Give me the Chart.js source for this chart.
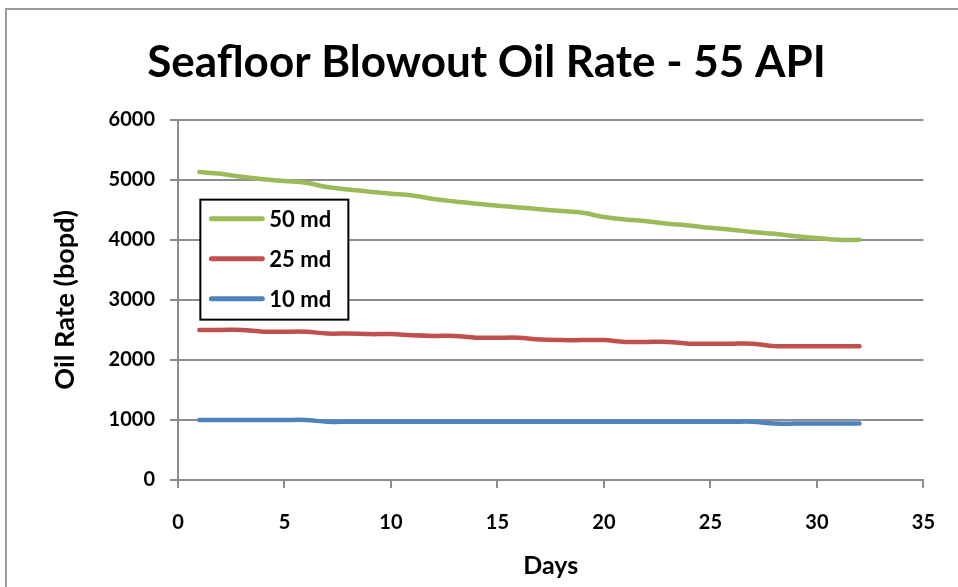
<!DOCTYPE html>
<html>
<head>
<meta charset="utf-8">
<script src="https://cdn.jsdelivr.net/npm/chart.js"></script>
<style>
  html, body { margin: 0; padding: 0; background: #fff; }
  #wrap { width: 958px; height: 587px; position: relative; }
</style>
</head>
<body>
<div id="wrap"><canvas id="chart-canvas"></canvas></div>
<script>
// values
const days = [1, 2, 3, 4, 5, 6, 7, 8, 9, 10, 11, 12, 13, 14, 15, 16,
              17, 18, 19, 20, 21, 22, 23, 24, 25, 26, 27, 28, 29, 30, 31, 32];
const rate50md = [5130, 5100, 5050, 5010, 4980, 4950, 4880, 4840, 4800, 4770, 4740, 4680,
                  4640, 4600, 4570, 4540, 4510, 4480, 4450, 4380, 4340, 4310, 4270, 4240,
                  4200, 4170, 4130, 4100, 4060, 4030, 4000, 4000];
const rate25md = [2500, 2500, 2500, 2470, 2470, 2470, 2440, 2440, 2430, 2430, 2410, 2400,
                  2400, 2370, 2370, 2370, 2340, 2330, 2330, 2330, 2300, 2300, 2300, 2270,
                  2270, 2270, 2270, 2230, 2230, 2230, 2230, 2230];
const rate10md = [1000, 1000, 1000, 1000, 1000, 1000, 970, 970, 970, 970, 970, 970,
                  970, 970, 970, 970, 970, 970, 970, 970, 970, 970, 970, 970,
                  970, 970, 970, 940, 940, 940, 940, 940];
const seriesLabels = ["50 md", "25 md", "10 md"];
const seriesColors = ["#9bbb59", "#c0504d", "#4f81bd"];
const xTicks = [0, 5, 10, 15, 20, 25, 30, 35];
const yTicks = [0, 1000, 2000, 3000, 4000, 5000, 6000];

const FONT = "Lato, 'Open Sans', sans-serif";

function pts(vals) {
    return days.map((d, i) => ({ x: d, y: vals[i] }));
}

// outer chart frame, like the spreadsheet chart border
const framePlugin = {
    id: "frame",
    beforeDraw(chart) {
        const ctx = chart.ctx;
        ctx.save();
        ctx.fillStyle = "#fff";
        ctx.fillRect(0, 0, chart.width, chart.height);
        ctx.strokeStyle = "#9a9a9a";
        ctx.lineWidth = 2;
        ctx.strokeRect(6, 9, chart.width + 20, chart.height + 20);
        ctx.restore();
    }
};

// boxed legend sitting inside the plot
const boxLegend = {
    id: "boxLegend",
    afterDatasetsDraw(chart) {
        const ctx = chart.ctx;
        const x = chart.scales.x.getPixelForValue(1.05);
        const y = chart.scales.y.getPixelForValue(4670);
        const w = 148, h = 120;
        ctx.save();
        ctx.fillStyle = "#fff";
        ctx.fillRect(x, y, w, h);
        ctx.strokeStyle = "#000";
        ctx.lineWidth = 2;
        ctx.strokeRect(x, y, w, h);
        chart.data.datasets.forEach((ds, i) => {
            const ly = y + 19 + i * 40;
            ctx.strokeStyle = ds.borderColor;
            ctx.lineWidth = 5;
            ctx.lineCap = "round";
            ctx.beginPath();
            ctx.moveTo(x + 11, ly);
            ctx.lineTo(x + 62, ly);
            ctx.stroke();
            ctx.fillStyle = "#000";
            ctx.font = "bold 22px " + FONT;
            ctx.textBaseline = "middle";
            ctx.fillText(ds.label, x + 69, ly + 1);
        });
        ctx.restore();
    }
};

const ctx = document.getElementById("chart-canvas").getContext("2d");
new Chart(ctx, {
    type: "line",
    data: {
        datasets: [rate50md, rate25md, rate10md].map((vals, i) => ({
            label: seriesLabels[i],
            data: pts(vals),
            borderColor: seriesColors[i],
            backgroundColor: seriesColors[i],
            borderWidth: 4.5,
            pointRadius: 0,
            tension: 0.4,
            borderCapStyle: "round",
            fill: false
        }))
    },
    options: {
        responsive: true,
        maintainAspectRatio: false,
        animation: false,
        layout: { padding: { top: 8, right: 34, left: 49, bottom: 6 } },
        plugins: {
            legend: { display: false },
            tooltip: { enabled: false },
            title: {
                display: true,
                text: "Seafloor Blowout Oil Rate - 55 API",
                color: "#000",
                font: { family: FONT, size: 44, weight: "bold" },
                padding: { top: 28, bottom: 31 }
            }
        },
        scales: {
            x: {
                type: "linear",
                min: 0,
                max: 35,
                afterBuildTicks(axis) { axis.ticks = xTicks.map(v => ({ value: v })); },
                afterFit(axis) { axis.height = 101; },
                grid: { drawOnChartArea: false, drawTicks: true, tickLength: 8, color: "#8c8c8c", lineWidth: 2 },
                border: { color: "#8c8c8c", width: 2 },
                ticks: { color: "#000", font: { family: FONT, size: 20, weight: "bold" }, padding: 23 },
                title: {
                    display: true, text: "Days", color: "#000",
                    font: { family: FONT, size: 25, weight: "bold" },
                    padding: { top: 0, bottom: 0 }
                }
            },
            y: {
                min: 0,
                max: 6000,
                afterBuildTicks(axis) { axis.ticks = yTicks.map(v => ({ value: v })); },
                afterFit(axis) { axis.width = 129; },
                grid: { color: "#8c8c8c", lineWidth: 2, tickLength: 8 },
                border: { color: "#8c8c8c", width: 2 },
                ticks: {
                    color: "#000", font: { family: FONT, size: 20, weight: "bold" }, padding: 15,
                    callback: v => String(v)
                },
                title: {
                    display: true, text: "Oil Rate (bopd)", color: "#000",
                    font: { family: FONT, size: 27, weight: "bold" },
                    padding: { top: 0, bottom: 0 }
                }
            }
        }
    },
    plugins: [framePlugin, boxLegend]
});
</script>
</body>
</html>
